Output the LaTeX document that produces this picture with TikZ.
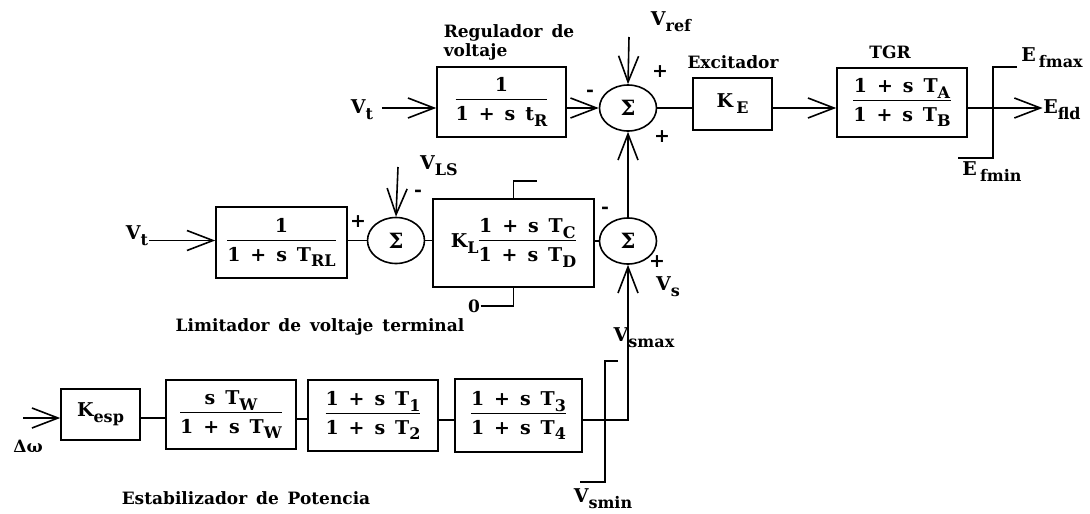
\documentclass[tikz,border=0pt]{standalone}
\usepackage{fontspec}
\setmainfont{DejaVu Serif}[WordSpace=1.5]
\usepackage{tikz}
\usetikzlibrary{arrows.meta,shapes.geometric}
\newcommand\ind[1]{\raisebox{-0.6ex}{\fontsize{16}{16}\selectfont #1}}
\newcommand\frc[2]{\begin{tabular}{@{}c@{}}#1\\[1pt]\hline\rule{0pt}{21pt}#2\end{tabular}}
\begin{document}
\begin{tikzpicture}[x=1pt,y=-1pt,line width=1.6pt,
blk/.style n args={2}{draw,rectangle,minimum width=#1,minimum height=#2,inner sep=0pt,font=\fontsize{19}{21}\selectfont\bfseries},
sum/.style={draw,ellipse,minimum width=57,minimum height=46,inner sep=0pt,font=\fontsize{21}{21}\selectfont\bfseries},
flecha/.style={-{Straight Barb[length=26pt,width=20pt]}},
vv/.style={inner sep=0pt,font=\fontsize{19}{21}\selectfont\bfseries},
lbl/.style={inner sep=0pt,font=\fontsize{17}{19}\selectfont\bfseries},
sgn/.style={inner sep=0pt,font=\fontsize{19}{19}\selectfont\bfseries}]
\useasboundingbox (0,0) rectangle (1090,514);
% regulador, excitador, TGR
\node[sum] (sA) at (628,108) {Σ};
\node[blk={129}{70}] (reg) at (501.5,102) {\frc{1}{1 + s t\ind{R}}};
\node[blk={79}{52}] (ke) at (732.5,104) {K\,\ind{E}};
\node[blk={130}{69}] (tgr) at (902,102.5) {\frc{1 + s T\ind{A}}{1 + s T\ind{B}}};
\node[vv] (vt1) at (362,110) {V\ind{t}};
\node[vv] (vref) at (671,22) {V\ind{ref}};
\node[vv] (efld) at (1062,110) {E\ind{fld}};
\node[vv] (efmax) at (1052,58) {E\,\ind{fmax}};
\node[vv] (efmin) at (992,172) {E\,\ind{fmin}};
\node[lbl,align=left,anchor=north west] (treg) at (443,24) {Regulador de\\voltaje};
\node[lbl] (texc) at (733,62) {Excitador};
\node[lbl] (ttgr) at (890,52) {TGR};
\coordinate (cref) at (629,37);
\draw[flecha] (vt1.east|-sA) ++(8,0) -- (reg.west|-sA);
\draw[flecha] (reg.east|-sA) -- (sA.west);
\draw[flecha] (cref) -- (sA.north);
\draw (sA.east) -- (ke.west|-sA);
\draw[flecha] (ke.east|-sA) -- (tgr.west|-sA);
\draw[flecha] (tgr.east|-sA) -- (efld.west|-sA);
\draw (1017,67) -- (993,67) -- (993,158) -- (958,158);
\node[sgn] (m1) at (590,93) {-};
\node[sgn] (p1) at (660,72) {+};
\node[sgn] (p2) at (662,137) {+};
% limitador de voltaje terminal
\node[vv] (vt2) at (137,236) {V\ind{t}};
\node[blk={131}{71}] (trl) at (281.5,242.5) {\frc{1}{1 + s T\ind{RL}}};
\node[sum] (sC) at (396,240.5) {Σ};
\node[blk={161}{88}] (kl) at (513.5,243) {K\ind{L}\frc{1 + s T\ind{C}}{1 + s T\ind{D}}};
\node[sum] (sB) at (628,241) {Σ};
\node[vv] (vls) at (439,166) {V\ind{LS}};
\node[vv] (vs) at (668,287) {V\ind{s}};
\node[lbl] (cero) at (474,306) {0};
\node[lbl] (tlim) at (320,327) {Limitador de voltaje terminal};
\coordinate (cls) at (398,167);
\draw[flecha] (vt2.east|-sC) -- (trl.west|-sC);
\draw (trl.east|-sC) -- (sC.west);
\draw[flecha] (cls) -- (sC.north);
\draw (sC.east) -- (kl.west|-sC);
\draw (kl.east|-sB) -- (sB.west);
\draw[flecha] (sB.north) -- (sA.south);
\draw (kl.north) |- (537,181);
\draw (cero.east) -| (kl.south);
\node[sgn] (p3) at (358,222) {+};
\node[sgn] (m2) at (418,193) {-};
\node[sgn] (m3) at (605,210) {-};
\node[sgn] (p4) at (657,262) {+};
% estabilizador de potencia
\node[blk={79}{51}] (kesp) at (100.5,414.5) {K\ind{esp}};
\node[blk={130}{69}] (tw) at (231,414.5) {\frc{s T\ind{W}}{1 + s T\ind{W}}};
\node[blk={130}{71}] (t12) at (373,415.5) {\frc{1 + s T\ind{1}}{1 + s T\ind{2}}};
\node[blk={127}{73}] (t34) at (518.5,415.5) {\frc{1 + s T\ind{3}}{1 + s T\ind{4}}};
\node[lbl] (dw) at (28,446) {Δω};
\node[vv] (vsmax) at (644,338) {V\ind{smax}};
\node[vv] (vsmin) at (603,499) {V\ind{smin}};
\node[lbl] (test) at (246,498) {Estabilizador de Potencia};
\coordinate (cdw) at (23,418);
\draw[flecha] (cdw) -- (kesp.west|-cdw);
\draw (kesp.east|-cdw) -- (tw.west|-cdw);
\draw (tw.east|-0,419) -- (t12.west|-0,419);
\draw (t12.east|-0,420) -- (t34.west|-0,420);
\draw[flecha] (t34.east|-0,420) -| (sB.south);
\draw (618,361) -- (605,361) -- (605,482) -- (580,482);
\end{tikzpicture}
\end{document}
